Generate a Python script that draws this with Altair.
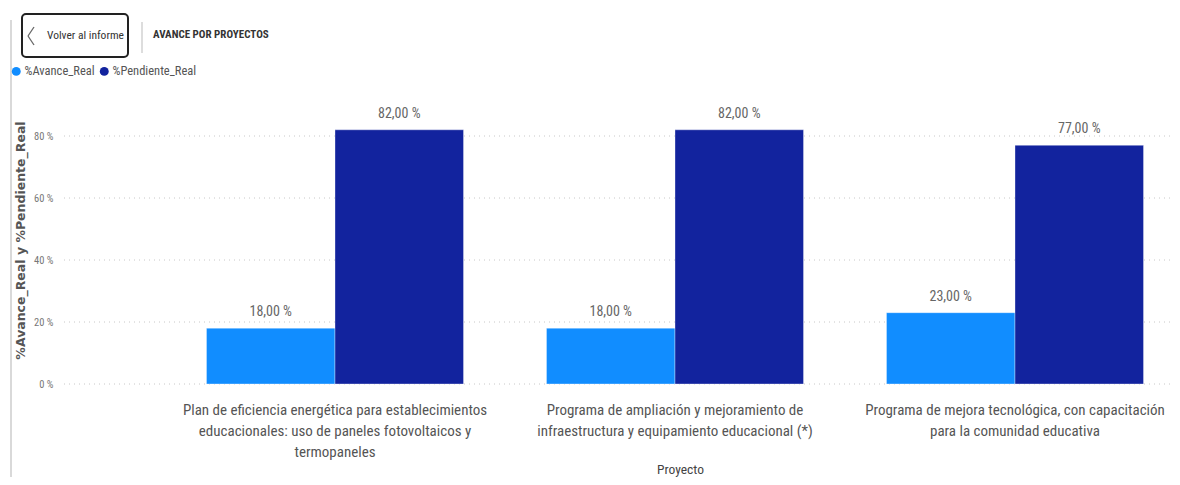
import json
import altair as alt
import pandas as pd

proyectos = [
    "Plan de eficiencia energética para establecimientos educacionales: uso de paneles fotovoltaicos y termopaneles",
    "Programa de ampliación y mejoramiento de infraestructura y equipamiento educacional (*)",
    "Programa de mejora tecnológica, con capacitación para la comunidad educativa",
]
proyecto_lineas = [
    ["Plan de eficiencia energética para establecimientos", "educacionales: uso de paneles fotovoltaicos y", "termopaneles"],
    ["Programa de ampliación y mejoramiento de", "infraestructura y equipamiento educacional (*)"],
    ["Programa de mejora tecnológica, con capacitación", "para la comunidad educativa"],
]
series = ["%Avance_Real", "%Pendiente_Real"]
avance_real = [18, 18, 23]
pendiente_real = [82, 82, 77]
y_ticks = [0, 20, 40, 60, 80]

rows = []
for p, a, b in zip(proyectos, avance_real, pendiente_real):
    rows.append({"Proyecto": p, "Serie": series[0], "Valor": a})
    rows.append({"Proyecto": p, "Serie": series[1], "Valor": b})
df = pd.DataFrame(rows)
grid_df = pd.DataFrame({"Valor": y_ticks})

FONT = "Liberation Sans Narrow, Roboto Condensed, Roboto, sans-serif"
W = 1108
H = 279

expr = json.dumps(proyecto_lineas[-1])
for p, lines in reversed(list(zip(proyectos[:-1], proyecto_lineas[:-1]))):
    expr = f"datum.value == {json.dumps(p)} ? {json.dumps(lines)} : ({expr})"

y_scale = alt.Scale(domain=[0, 90], nice=False)

x_enc = alt.X(
    "Proyecto:N",
    sort=proyectos,
    scale=alt.Scale(range=[101, 1121], paddingInner=0.244, paddingOuter=0.122),
    axis=alt.Axis(
        title="Proyecto",
        labelAngle=0,
        labelExpr=expr,
        labelFont=FONT,
        labelFontSize=15,
        labelColor="#555555",
        labelLineHeight=21,
        labelPadding=18,
        labelLimit=400,
        domain=False,
        ticks=False,
        grid=False,
        titleFont=FONT,
        titleFontSize=13.5,
        titleFontWeight="normal",
        titleColor="#444444",
        titleX=616,
        titleY=78,
        titleAnchor="middle",
        titleBaseline="top",
    ),
)
y_enc = alt.Y(
    "Valor:Q",
    scale=y_scale,
    axis=alt.Axis(
        title="%Avance_Real y %Pendiente_Real",
        values=y_ticks,
        labelExpr="datum.value + ' %'",
        labelFont=FONT,
        labelFontSize=10.5,
        labelColor="#777777",
        labelPadding=11,
        domain=False,
        ticks=False,
        grid=False,
        titleFont="DejaVu Sans",
        titleFontSize=12.5,
        titleFontWeight="bold",
        titleColor="#555555",
        titleX=-44,
        titleY=135,
        titleAngle=-90,
        titleAlign="center",
        titleBaseline="middle",
    ),
)

color_enc = alt.Color(
    "Serie:N",
    sort=series,
    scale=alt.Scale(domain=series, range=["#118DFF", "#12239E"]),
    legend=alt.Legend(
        title=None,
        orient="none",
        legendX=-54,
        legendY=-40,
        direction="horizontal",
        symbolType="circle",
        symbolSize=80,
        symbolStrokeWidth=0,
        labelFont=FONT,
        labelFontSize=12.5,
        labelColor="#555555",
        columnPadding=3,
        labelOffset=2,
    ),
)

grid = alt.Chart(grid_df).mark_rule(color="#c8c8c8", strokeDash=[1, 4], strokeWidth=1).encode(
    y=alt.Y("Valor:Q", scale=y_scale), x=alt.value(0), x2=alt.value(W)
)

base = alt.Chart(df)
bars = base.mark_bar(stroke="#ffffff", strokeOpacity=0.35, strokeWidth=1).encode(
    x=x_enc,
    xOffset=alt.XOffset("Serie:N", sort=series, scale=alt.Scale(paddingInner=0, paddingOuter=0)),
    y=y_enc,
    color=color_enc,
)
labels = base.transform_calculate(
    etiqueta="replace(format(datum.Valor, '.2f'), '.', ',') + ' %'"
).mark_text(
    baseline="bottom", dy=-9, font=FONT, fontSize=14, color="#666666"
).encode(
    x=alt.X("Proyecto:N", sort=proyectos),
    xOffset=alt.XOffset("Serie:N", sort=series),
    y="Valor:Q",
    text="etiqueta:N",
)

one = pd.DataFrame({"k": [0]})
border = alt.Chart(one).mark_rule(color="#cccccc", strokeWidth=1.5).encode(
    x=alt.value(-53), x2=alt.value(-53), y=alt.value(-85), y2=alt.value(375)
)
button = alt.Chart(one).mark_rect(
    fill="white", stroke="#222222", strokeWidth=2, cornerRadius=4
).encode(x=alt.value(-42), x2=alt.value(64), y=alt.value(-91), y2=alt.value(-48))
chev1 = alt.Chart(one).mark_rule(color="#666666", strokeWidth=1.3).encode(
    x=alt.value(-30), x2=alt.value(-36), y=alt.value(-78), y2=alt.value(-69)
)
chev2 = alt.Chart(one).mark_rule(color="#666666", strokeWidth=1.3).encode(
    x=alt.value(-36), x2=alt.value(-30), y=alt.value(-69), y2=alt.value(-60)
)
volver = alt.Chart(one).mark_text(
    text="Volver al informe", align="left", baseline="middle", font=FONT, fontSize=11.5, color="#333333"
).encode(x=alt.value(-17), y=alt.value(-69))
sep = alt.Chart(one).mark_rule(color="#bbbbbb", strokeWidth=1).encode(
    x=alt.value(78), x2=alt.value(78), y=alt.value(-83), y2=alt.value(-52)
)
titulo = alt.Chart(one).mark_text(
    text="AVANCE POR PROYECTOS", align="left", baseline="middle", font=FONT, fontSize=11,
    fontWeight="bold", color="#333333"
).encode(x=alt.value(89), y=alt.value(-70))

chart = alt.layer(
    grid, border, button, chev1, chev2, volver, sep, titulo, bars, labels
).properties(
    width=W,
    height=H,
    padding={"left": 56, "top": 97, "right": 0, "bottom": 93},
    autosize=alt.AutoSizeParams(type="none"),
).configure(background="white", view=alt.ViewConfig(stroke=None))

chart.save("out.html", embed_options={"renderer": "svg", "actions": False})
